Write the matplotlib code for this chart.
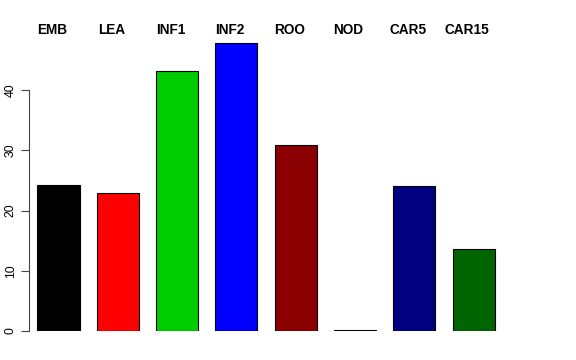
import matplotlib.pyplot as plt

tissues = ["EMB", "LEA", "INF1", "INF2", "ROO", "NOD", "CAR5", "CAR15"]
values = [24.2, 22.9, 43.2, 47.8, 30.9, 0.15, 24.1, 13.6]
colors = ["black", "red", "#00CD00", "blue", "#8B0000", "#E69F00", "#000080", "#006400"]
yticks = [0, 10, 20, 30, 40]

fig = plt.figure(figsize=(5.76, 3.6), dpi=100)
ax = fig.add_axes([29 / 576, 29 / 360, 504 / 576, 301.25 / 360])

x = list(range(len(tissues)))
ax.bar(x, values, width=0.71, color=colors, edgecolor="black", linewidth=0.8)
ax.set_xlim(-0.497, 8)
ax.set_ylim(0, 50)

for i, name in enumerate(tissues):
    ax.text(i - 0.11, 1.0, name, transform=ax.get_xaxis_transform(),
            ha="center", va="center", fontsize=9.8, fontweight="bold",
            family="Liberation Sans")

for s in ["top", "right", "bottom"]:
    ax.spines[s].set_visible(False)
ax.spines["left"].set_bounds(0, 40)
ax.spines["left"].set_color("#444444")
ax.set_xticks([])
ax.set_yticks(yticks)
ax.set_yticklabels([str(t) for t in yticks], rotation=90, va="center",
                   fontsize=8.8, family="Liberation Sans")
ax.tick_params(axis="y", length=5.8, color="#444444", pad=3)

fig.savefig("out.png", dpi=100)
